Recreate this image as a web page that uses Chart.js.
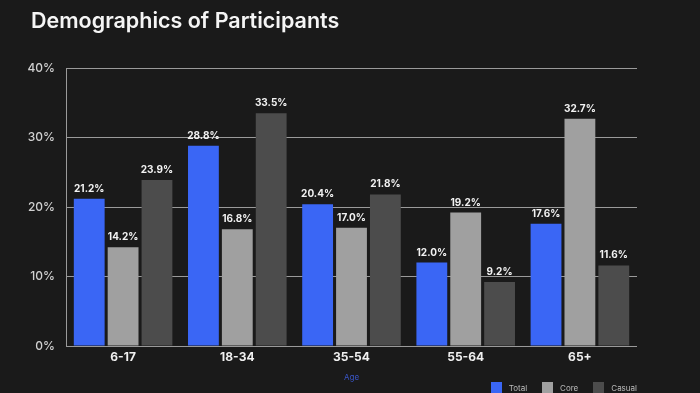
<!DOCTYPE html>
<html>
<head>
<meta charset="utf-8">
<script src="https://cdn.jsdelivr.net/npm/chart.js@4.4.1/dist/chart.umd.min.js"></script>
<style>
html,body{margin:0;padding:0;background:#1a1a1a;}
.wrap{position:relative;width:700px;height:393px;}
canvas{display:block;}
h1{position:absolute;left:31px;top:6px;margin:0;font:600 21.5px Inter,"Noto Sans",sans-serif;color:#f5f5f5;line-height:28px;}
.legend{position:absolute;left:0;right:63px;top:382px;display:flex;justify-content:flex-end;font:8px Inter,"Noto Sans",sans-serif;color:#bbb;}
.legend span{display:flex;align-items:center;margin-left:15px;}
.legend i{display:inline-block;width:11px;height:11px;margin-right:7px;}
</style>
</head>
<body>
<div class="wrap"><canvas id="c" width="700" height="393"></canvas>
<h1>Demographics of Participants</h1>
<div class="legend" id="lg"></div></div>
<script>
/* DATA */
const ages=['6-17','18-34','35-54','55-64','65+'];
const totalPct=[21.2,28.8,20.4,12.0,17.6];
const corePct=[14.2,16.8,17.0,19.2,32.7];
const casualPct=[23.9,33.5,21.8,9.2,11.6];
const yTicks=[0,10,20,30,40];

const FONT='Inter, "Noto Sans", sans-serif';

// value labels above each bar
const barLabels={
  id:'barLabels',
  afterDatasetsDraw(chart){
    const ctx=chart.ctx;
    ctx.save();
    ctx.font='700 10px '+FONT;
    ctx.fillStyle='#f2f2f2';
    ctx.textAlign='center';
    ctx.textBaseline='bottom';
    chart.data.datasets.forEach((ds,i)=>{
      chart.getDatasetMeta(i).data.forEach((bar,j)=>{
        ctx.fillText(ds.data[j].toFixed(1)+'%',bar.x,bar.y-5);
      });
    });
    ctx.restore();
  }
};

const chart=new Chart(document.getElementById('c'),{
  type:'bar',
  data:{labels:ages,datasets:[
    {label:'Total',data:totalPct,backgroundColor:'#3a66f5'},
    {label:'Core',data:corePct,backgroundColor:'#a0a0a0'},
    {label:'Casual',data:casualPct,backgroundColor:'#4c4c4c'},
  ]},
  options:{
    responsive:false,animation:false,
    categoryPercentage:0.89,barPercentage:0.91,
    layout:{padding:{left:18,right:63,top:68,bottom:0}},
    plugins:{
      legend:{display:false},
      tooltip:{enabled:false}
    },
    scales:{
      x:{grid:{display:false,drawTicks:false},border:{display:false},
        afterFit(s){s.height=47;},
        ticks:{color:'#f0f0f0',font:{family:FONT,size:12,weight:'700'},padding:4},
        title:{display:true,text:'Age',color:'#3a56c8',font:{family:FONT,size:8},padding:{top:6,bottom:11}}},
      y:{min:0,max:40,
        afterBuildTicks(s){s.ticks=yTicks.map(v=>({value:v}));},
        afterFit(s){s.width=48;},
        grid:{color:'#9a9a9a',lineWidth:1,drawTicks:false},
        border:{display:true,color:'#9a9a9a'},
        ticks:{color:'#d0d0d0',font:{family:FONT,size:12,weight:'500'},padding:11,callback:v=>v+'%'}}
    }
  },
  plugins:[barLabels]
});

document.getElementById('lg').innerHTML=chart.data.datasets.map(d=>`<span><i style="background:${d.backgroundColor}"></i>${d.label}</span>`).join('');
</script>
</body>
</html>
